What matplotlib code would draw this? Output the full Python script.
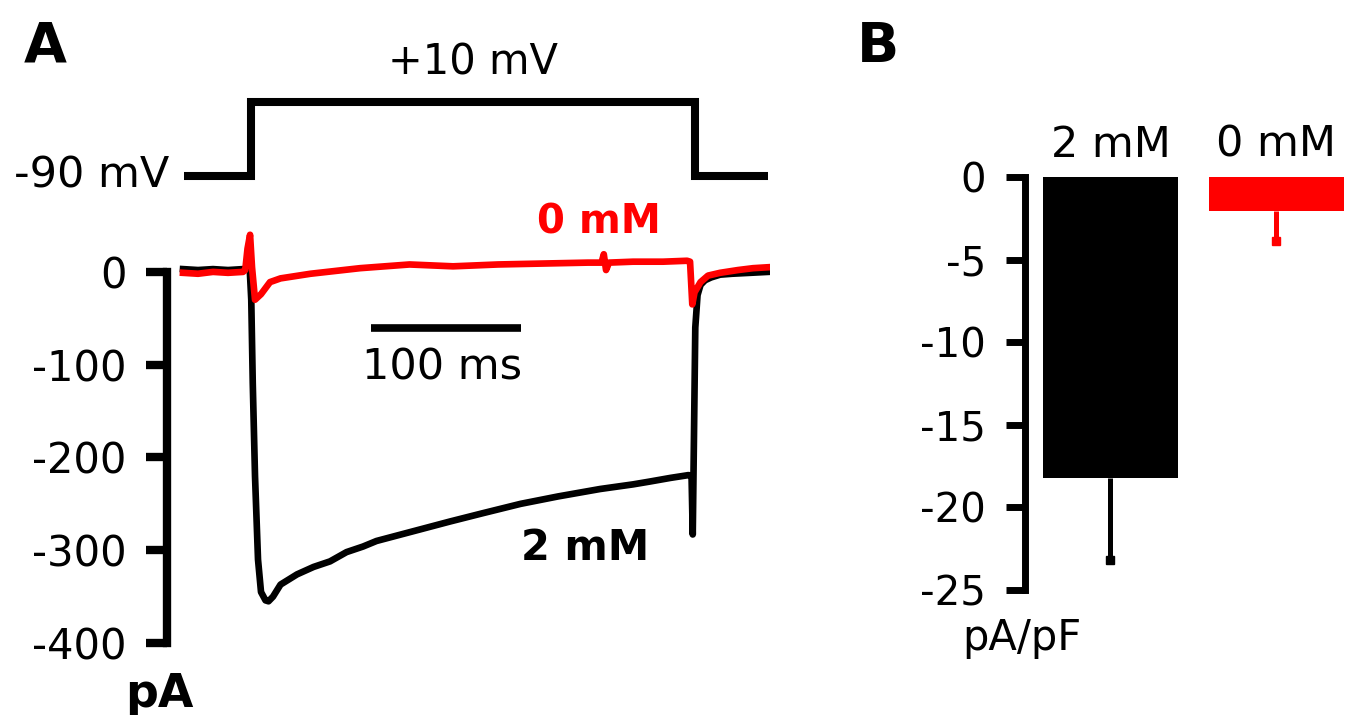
import matplotlib
matplotlib.use("Agg")
import matplotlib.pyplot as plt

plt.rcParams["font.family"] = ["DejaVu Sans"]
plt.rcParams["axes.unicode_minus"] = False

W, H = 1346, 715

# voltage protocol (ms, mV)
volt_t = [0.7, 45, 45, 341, 341, 390]
volt_v = [-90, -90, 10, 10, -90, -90]

# 2 mM trace (ms, pA)
black_t = [0, 10, 20, 30, 40, 44.5, 45.5, 46.5, 48, 50, 52, 55, 57, 60, 65, 76, 87,
           98, 109, 120, 129, 150, 178, 200, 225, 250, 278, 300, 311, 325, 337, 339,
           339.8, 340.6, 341.5, 343, 345, 348, 352, 358, 366, 378, 390]
black_i = [3, 2, 3, 2, 3, 2, -30, -120, -220, -310, -345, -354, -355, -350, -337, -326, -318,
           -312, -302, -296, -290, -281, -269, -260, -250, -242, -234, -229, -226, -222, -219, -220,
           -283, -180, -60, -25, -14, -9, -6, -3, -2, -1, 0]

# 0 mM trace (ms, pA)
red_t = [0, 10, 20, 30, 40, 41.5, 43, 44.7, 46, 48, 52, 58, 65, 73, 85, 96, 118, 151,
         180, 210, 240, 270, 279, 280.5, 282, 284, 300, 320, 336, 338, 339.5, 341, 345,
         350, 358, 370, 380, 390]
red_i = [-1, -2, 0, -1, 0, 2, 25, 40, 5, -30, -24, -11, -7, -5, -2, 0, 4, 8,
         6, 8, 9, 10, 10, 19, 2, 10, 11, 11, 12, 11, -35, -22, -11,
         -4, -1, 2, 4, 5]

# panel B
groups = ["2 mM", "0 mM"]
density = [-18.2, -2.05]
density_err = [5.0, 1.85]
bar_colors = ["black", "red"]

yticks_a = [0, -100, -200, -300, -400]
yticks_b = [0, -5, -10, -15, -20, -25]


def fx(x):
    return x / W


def fy(y):
    return 1 - y / H


fig = plt.figure(figsize=(W / 100, H / 100), dpi=100)

# current traces
ax = fig.add_axes([fx(167), fy(661.6), fx(770) - fx(167), fy(225.5) - fy(661.6)])
ax.plot(black_t, black_i, color="black", lw=4.8, solid_joinstyle="round")
ax.plot(red_t, red_i, color="red", lw=4.8, solid_joinstyle="round")
ax.plot([125, 225], [-61, -61], color="black", lw=5.5, solid_capstyle="butt")
ax.text(173, -103, "100 ms", ha="center", va="center", fontsize=31)
ax.text(277, 53, "0 mM", color="red", fontsize=29, fontweight="bold", ha="center", va="center")
ax.text(268, -298, "2 mM", color="black", fontsize=30, fontweight="bold", ha="center", va="center")
ax.set_xlim(-10.67, 391.3)
ax.set_ylim(-420, 50)
for s in ["top", "right", "bottom"]:
    ax.spines[s].set_visible(False)
ax.spines["left"].set_linewidth(6)
ax.spines["left"].set_bounds(-400, 0)
ax.set_xticks([])
ax.set_yticks(yticks_a)
ax.set_yticklabels([str(v) for v in yticks_a])
ax.tick_params(axis="y", length=15, width=6, pad=14, labelsize=30, direction="out")

# voltage protocol
axv = fig.add_axes([fx(167), fy(183.4), fx(770) - fx(167), fy(94.6) - fy(183.4)])
axv.plot(volt_t, volt_v, color="black", lw=5.8, solid_joinstyle="miter", solid_capstyle="butt")
axv.set_xlim(-10.67, 391.3)
axv.set_ylim(-100, 20)
axv.axis("off")
axv.text(193, 64, "+10 mV", ha="center", va="center", fontsize=30)
axv.text(-9, -90, "-90 mV", ha="right", va="center", fontsize=31)

# panel B
axb = fig.add_axes([fx(1025), fy(606.5), fx(1346) - fx(1025), fy(144) - fy(606.5)])
xs = range(len(groups))
axb.bar(xs, density, width=0.813, color=bar_colors)
for i in xs:
    low = density[i] - density_err[i]
    axb.errorbar(i, density[i], yerr=[[density_err[i]], [0]], color=bar_colors[i],
                 elinewidth=3.6, capsize=0)
    axb.plot(i, low, marker="s", ms=5.5, color=bar_colors[i])
    axb.text(i, 1.94, groups[i], ha="center", va="center", fontsize=31)
axb.set_xlim(-0.515, 1.419)
axb.set_ylim(-26, 2)
for s in ["top", "right", "bottom"]:
    axb.spines[s].set_visible(False)
axb.spines["left"].set_linewidth(5)
axb.spines["left"].set_bounds(-25, 0)
axb.set_xticks([])
axb.set_yticks(yticks_b)
axb.set_yticklabels([str(v) for v in yticks_b])
axb.tick_params(axis="y", length=14, width=5, pad=14, labelsize=29, direction="out")

fig.text(fx(1022), fy(650), "pA/pF", ha="center", va="baseline", fontsize=30)
fig.text(fx(159), fy(707), "pA", ha="center", va="baseline", fontsize=33, fontweight="bold")
fig.text(fx(24), fy(62), "A", ha="left", va="baseline", fontsize=40, fontweight="bold")
fig.text(fx(857), fy(62), "B", ha="left", va="baseline", fontsize=40, fontweight="bold")

fig.savefig("out.png", dpi=100)
